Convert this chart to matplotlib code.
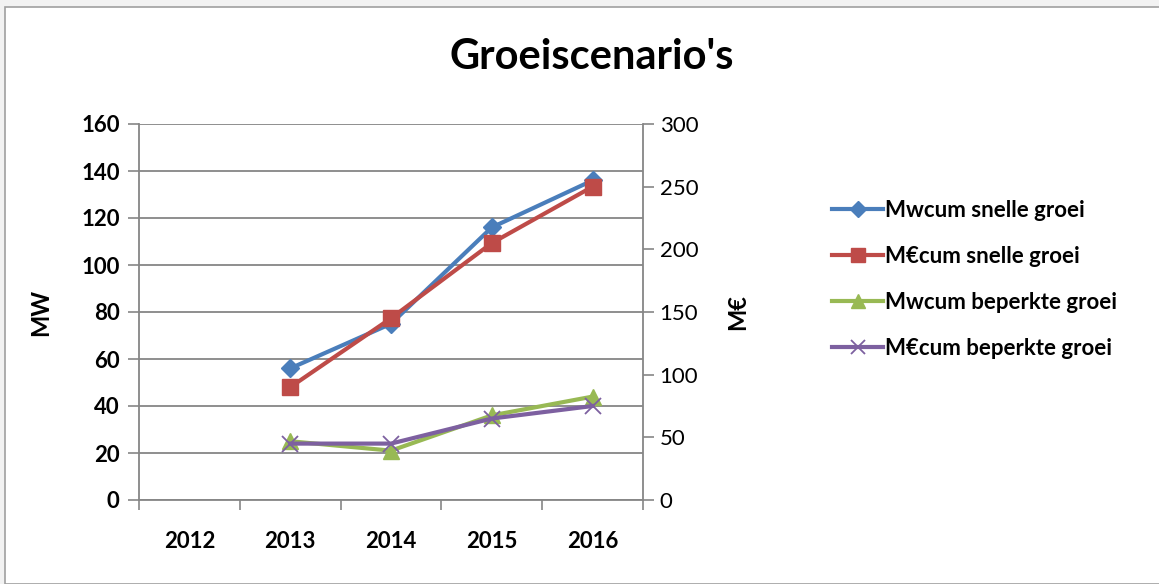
import numpy as np
import matplotlib.pyplot as plt
from matplotlib.patches import Rectangle
from matplotlib.lines import Line2D

# data
years = ["2012", "2013", "2014", "2015", "2016"]
mw_snel = [np.nan, 56, 75, 116, 136]
meur_snel = [np.nan, 90, 145, 205, 250]
mw_beperkt = [np.nan, 25, 21, 36, 44]
meur_beperkt = [np.nan, 45, 45, 65, 75]

labels = ["Mwcum snelle groei", "M€cum snelle groei",
          "Mwcum beperkte groei", "M€cum beperkte groei"]

plt.rcParams['font.family'] = ['Lato', 'DejaVu Sans']

grid_col = "#868686"
c_blue = "#4A7EBB"
c_red = "#BE4B48"
c_green = "#98B954"
c_purple = "#7D60A0"

fig = plt.figure(figsize=(11.59, 5.84), dpi=100)
fig.patch.set_facecolor("#f2f2f2")
# chart area border
fig.add_artist(Rectangle((5 / 1159, 0), 1.0, 1 - 7 / 584, transform=fig.transFigure,
                         facecolor="white", edgecolor="#a0a0a0", lw=1.2, zorder=0))

ax = fig.add_axes([139 / 1159, 1 - 500 / 584, (643 - 139) / 1159, (500 - 124) / 584])
ax.set_facecolor("none")
ax2 = ax.twinx()

x = np.arange(len(years))
ax.plot(x, mw_snel, color=c_blue, lw=3, marker="D", ms=9, zorder=3)
ax2.plot(x, meur_snel, color=c_red, lw=3, marker="s", ms=11, zorder=3)
ax.plot(x, mw_beperkt, color=c_green, lw=3, marker="^", ms=11, zorder=3)
ax2.plot(x, meur_beperkt, color=c_purple, lw=3, marker="x", ms=11, mew=1.3, zorder=3)

ax.set_xlim(-0.5, 4.5)
ax.set_ylim(0, 160)
ax.set_yticks(np.arange(0, 161, 20))
ax2.set_ylim(0, 300)
ax2.set_yticks(np.arange(0, 301, 50))

ax.set_xticks(x)
ax.set_xticklabels(years, fontweight="bold")
ax.set_xticks(np.arange(-0.5, 4.6, 1), minor=True)
ax.tick_params(axis="x", which="major", length=0, pad=22, labelsize=16)
ax.tick_params(axis="x", which="minor", length=7, color=grid_col, width=1.2)
ax.tick_params(axis="y", length=8, color=grid_col, width=1.2, labelsize=16, pad=6)
ax2.tick_params(axis="y", length=8, color=grid_col, width=1.2, labelsize=16, pad=4)
for t in ax.get_yticklabels():
    t.set_fontweight("bold")

ax.yaxis.grid(True, color=grid_col, lw=1.3)
ax.set_axisbelow(True)
for a in (ax, ax2):
    for s in a.spines.values():
        s.set_visible(False)
    a.spines["left"].set_visible(a is ax)
    a.spines["right"].set_visible(a is ax2)
    a.spines["bottom"].set_visible(a is ax)
ax.spines["left"].set_color(grid_col)
ax.spines["bottom"].set_color(grid_col)
ax2.spines["right"].set_color(grid_col)
for s in ("left", "bottom"):
    ax.spines[s].set_linewidth(1.3)
ax2.spines["right"].set_linewidth(1.3)

ax.set_ylabel("MW", fontsize=17, fontweight="bold", labelpad=21)
ax2.set_ylabel("M€", fontsize=17, fontweight="bold", labelpad=20)

fig.text(592 / 1159, 1 - 57 / 584, "Groeiscenario's", fontsize=30, fontweight="bold",
         ha="center", va="center")

handles = [
    Line2D([], [], color=c_blue, lw=3, marker="D", ms=8),
    Line2D([], [], color=c_red, lw=3, marker="s", ms=10),
    Line2D([], [], color=c_green, lw=3, marker="^", ms=10),
    Line2D([], [], color=c_purple, lw=3, marker="x", ms=10, mew=1.3),
]
fig.legend(handles, labels, loc="upper left", bbox_to_anchor=(812 / 1159, 1 - 180 / 584),
           frameon=False, handlelength=2.3, handletextpad=0.1, labelspacing=1.12,
           prop={"size": 16, "weight": "bold"})

fig.savefig("out.png", dpi=100, facecolor=fig.get_facecolor())
